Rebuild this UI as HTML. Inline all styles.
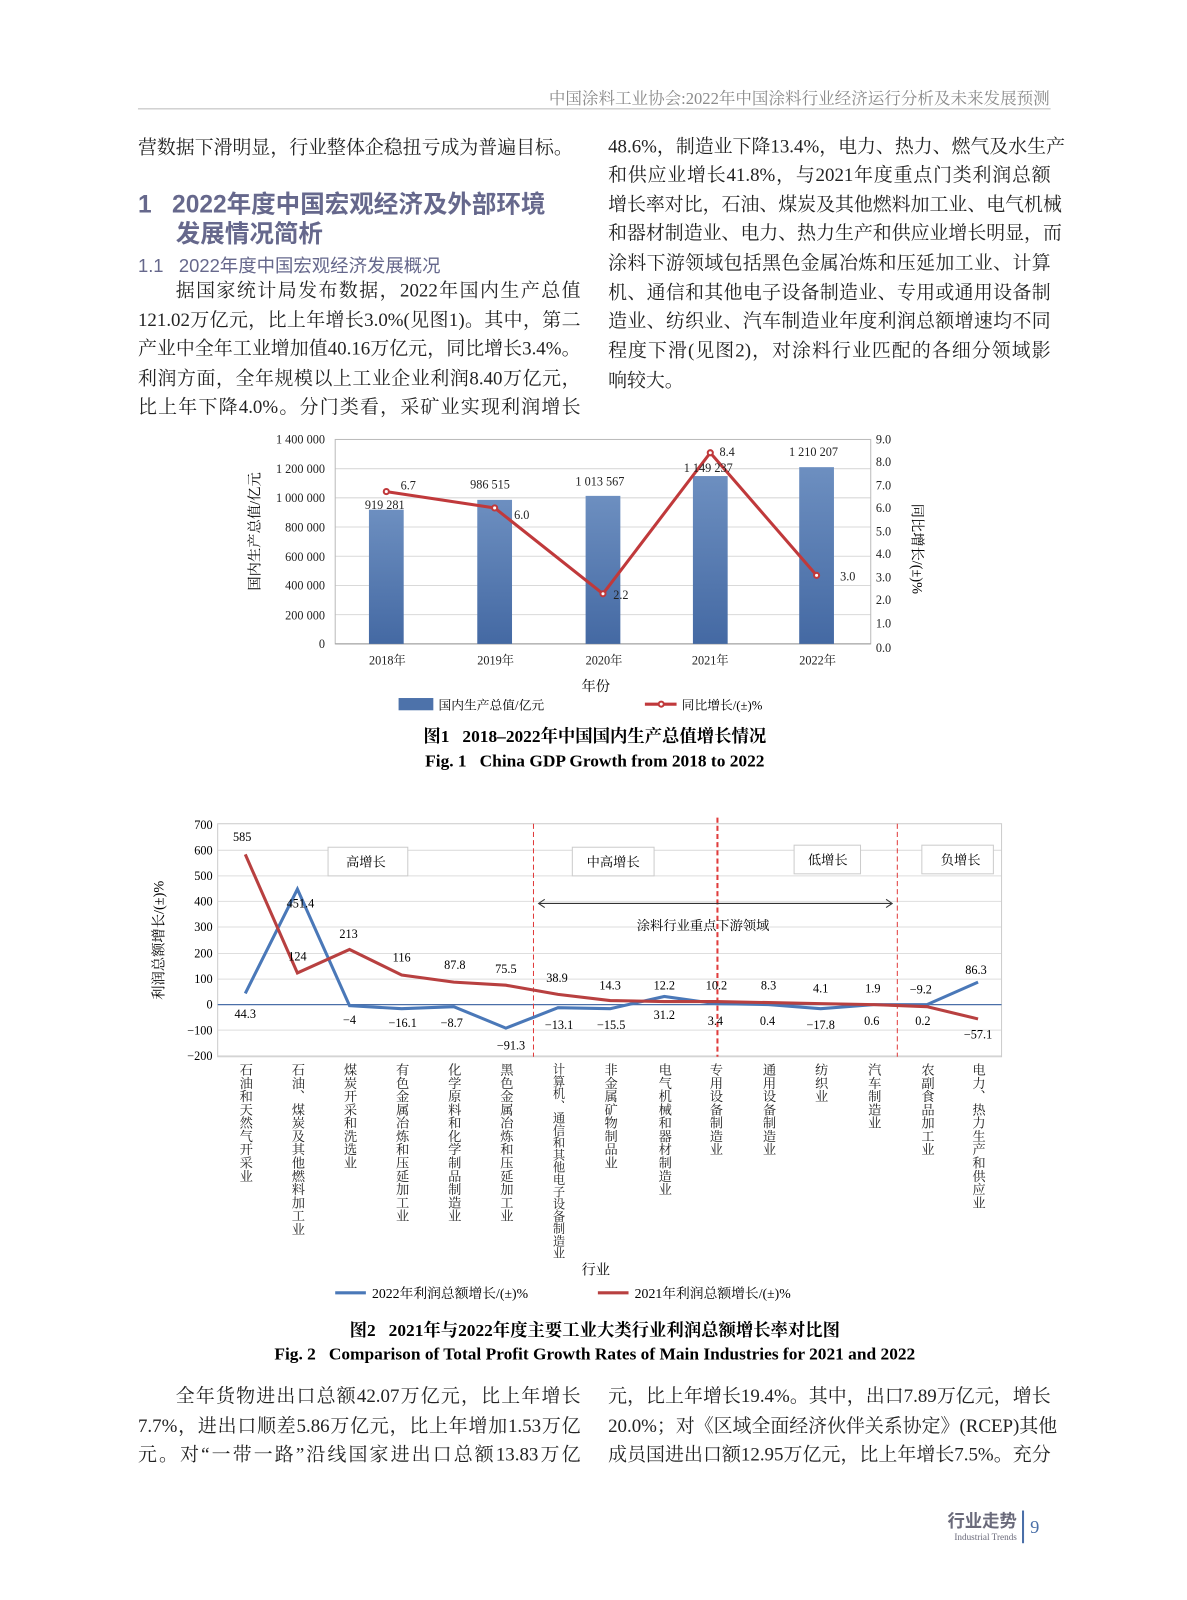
<!DOCTYPE html>
<html><head><meta charset="utf-8"><style>
body{margin:0;background:#fff;}
#o{position:relative;width:1187px;height:1600px;overflow:hidden;}
#p{position:absolute;left:0;top:0;width:1187px;height:1600px;transform:scale(1.022);transform-origin:0 0;font-family:"Liberation Serif","Noto Serif CJK SC",serif;color:#222;}
.l{position:absolute;font-size:18.5px;line-height:22px;white-space:nowrap;text-align:justify;text-align-last:justify;}
.h{position:absolute;color:#66688c;font-family:"Liberation Sans","Noto Sans CJK SC",sans-serif;white-space:nowrap;}
svg{position:absolute;left:0;top:0;}
</style></head><body><div id="o"><div id="p">
<div class="h" style="left:537px;top:83px;font-size:16.2px;color:#8a8a8a;font-family:'Liberation Serif','Noto Serif CJK SC',serif">中国涂料工业协会:2022年中国涂料行业经济运行分析及未来发展预测</div>
<div style="position:absolute;left:135px;top:106px;width:893px;height:1px;background:#bbb"></div>

<div class="l" style="left:135px;top:134px;width:433px;text-align-last:left">营数据下滑明显，行业整体企稳扭亏成为普遍目标。</div>
<div class="h" style="left:135px;top:180px;font-size:24px;font-weight:bold">1&nbsp;&nbsp;&nbsp;2022年度中国宏观经济及外部环境</div>
<div class="h" style="left:172px;top:209px;font-size:24px;font-weight:bold">发展情况简析</div>
<div class="h" style="left:135px;top:246px;font-size:18px">1.1&nbsp;&nbsp;&nbsp;2022年度中国宏观经济发展概况</div>
<div class="l" style="left:172px;top:274px;width:396px">据国家统计局发布数据，2022年国内生产总值</div>
<div class="l" style="left:135px;top:303px;width:433px">121.02万亿元，比上年增长3.0%(见图1)。其中，第二</div>
<div class="l" style="left:135px;top:331px;width:433px">产业中全年工业增加值40.16万亿元，同比增长3.4%。</div>
<div class="l" style="left:135px;top:360px;width:433px">利润方面，全年规模以上工业企业利润8.40万亿元，</div>
<div class="l" style="left:135px;top:388px;width:433px">比上年下降4.0%。分门类看，采矿业实现利润增长</div>

<div class="l" style="left:595px;top:133px;width:433px">48.6%，制造业下降13.4%，电力、热力、燃气及水生产</div>
<div class="l" style="left:595px;top:161px;width:433px">和供应业增长41.8%，与2021年度重点门类利润总额</div>
<div class="l" style="left:595px;top:190px;width:433px">增长率对比，石油、煤炭及其他燃料加工业、电气机械</div>
<div class="l" style="left:595px;top:218px;width:433px">和器材制造业、电力、热力生产和供应业增长明显，而</div>
<div class="l" style="left:595px;top:247px;width:433px">涂料下游领域包括黑色金属冶炼和压延加工业、计算</div>
<div class="l" style="left:595px;top:276px;width:433px">机、通信和其他电子设备制造业、专用或通用设备制</div>
<div class="l" style="left:595px;top:304px;width:433px">造业、纺织业、汽车制造业年度利润总额增速均不同</div>
<div class="l" style="left:595px;top:333px;width:433px">程度下滑(见图2)，对涂料行业匹配的各细分领域影</div>
<div class="l" style="left:595px;top:362px;width:433px;text-align-last:left">响较大。</div>

<div class="l" style="left:172px;top:1356px;width:396px">全年货物进出口总额42.07万亿元，比上年增长</div>
<div class="l" style="left:135px;top:1385px;width:433px">7.7%，进出口顺差5.86万亿元，比上年增加1.53万亿</div>
<div class="l" style="left:135px;top:1413px;width:433px">元。对“一带一路”沿线国家进出口总额13.83万亿</div>
<div class="l" style="left:595px;top:1356px;width:433px">元，比上年增长19.4%。其中，出口7.89万亿元，增长</div>
<div class="l" style="left:595px;top:1385px;width:433px">20.0%；对《区域全面经济伙伴关系协定》(RCEP)其他</div>
<div class="l" style="left:595px;top:1413px;width:433px">成员国进出口额12.95万亿元，比上年增长7.5%。充分</div>

<svg width="1187" height="1600" font-family="Liberation Serif,Noto Serif CJK SC,serif">
<g stroke="#d9d9d9" stroke-width="1">
<line x1="328" y1="430" x2="852" y2="430"/><line x1="328" y1="458.6" x2="852" y2="458.6"/><line x1="328" y1="487.1" x2="852" y2="487.1"/><line x1="328" y1="515.7" x2="852" y2="515.7"/><line x1="328" y1="544.3" x2="852" y2="544.3"/><line x1="328" y1="572.9" x2="852" y2="572.9"/><line x1="328" y1="601.4" x2="852" y2="601.4"/>
</g>
<rect x="328" y="430" width="524" height="200" fill="none" stroke="#bbb"/>
<line x1="328" y1="630" x2="852" y2="630" stroke="#999"/>
<g font-size="12" text-anchor="end" fill="#222">
<text x="318" y="434">1 400 000</text><text x="318" y="463">1 200 000</text><text x="318" y="491">1 000 000</text><text x="318" y="520">800 000</text><text x="318" y="549">600 000</text><text x="318" y="577">400 000</text><text x="318" y="606">200 000</text><text x="318" y="634">0</text>
</g>
<g font-size="12" fill="#222">
<text x="857" y="434">9.0</text><text x="857" y="456">8.0</text><text x="857" y="479">7.0</text><text x="857" y="501">6.0</text><text x="857" y="524">5.0</text><text x="857" y="546">4.0</text><text x="857" y="569">3.0</text><text x="857" y="591">2.0</text><text x="857" y="614">1.0</text><text x="857" y="638">0.0</text>
</g>
<defs><linearGradient id="bg" x1="0" y1="0" x2="0" y2="1"><stop offset="0" stop-color="#6d8fc0"/><stop offset="1" stop-color="#4469a3"/></linearGradient></defs>
<g fill="url(#bg)">
<rect x="361" y="498.7" width="34" height="131.3"/><rect x="467" y="489.1" width="34" height="140.9"/><rect x="573" y="485.2" width="34" height="144.8"/><rect x="678" y="465.8" width="34" height="164.2"/><rect x="782" y="457.1" width="34" height="172.9"/>
</g>
<polyline points="378,481 484,497 590,581 695,443 799,563" fill="none" stroke="#c0393b" stroke-width="3"/>
<g fill="#fff" stroke="#c0393b" stroke-width="2"><circle cx="378" cy="481" r="2.5"/><circle cx="484" cy="497" r="2.5"/><circle cx="590" cy="581" r="2.5"/><circle cx="695" cy="443" r="2.5"/><circle cx="799" cy="563" r="2.5"/></g>
<g font-size="12" fill="#222">
<text x="392" y="479">6.7</text><text x="357" y="498">919 281</text><text x="460" y="478">986 515</text><text x="503" y="508">6.0</text><text x="563" y="475">1 013 567</text><text x="600" y="586">2.2</text><text x="704" y="446">8.4</text><text x="669" y="462">1 149 237</text><text x="772" y="446">1 210 207</text><text x="822" y="568">3.0</text>
</g>
<g font-size="12" text-anchor="middle" fill="#222"><text x="379" y="650">2018年</text><text x="485" y="650">2019年</text><text x="591" y="650">2020年</text><text x="695" y="650">2021年</text><text x="800" y="650">2022年</text></g>
<text x="583" y="676" font-size="14" text-anchor="middle">年份</text>
<text transform="translate(254,520) rotate(-90)" font-size="14" text-anchor="middle">国内生产总值/亿元</text>
<text transform="translate(893,537) rotate(90)" font-size="14" text-anchor="middle">同比增长/(±)%</text>
<rect x="390" y="683" width="34" height="12" fill="#4d72aa"/><text x="429" y="694" font-size="12.5">国内生产总值/亿元</text>
<line x1="631" y1="689" x2="662" y2="689" stroke="#c0393b" stroke-width="3"/><circle cx="647" cy="689" r="2.5" fill="#fff" stroke="#c0393b" stroke-width="2"/><text x="667" y="694" font-size="12.5">同比增长/(±)%</text>
<text x="582" y="726" font-size="17" font-weight="bold" text-anchor="middle">图1&#160;&#160;&#160;2018–2022年中国国内生产总值增长情况</text>
<text x="582" y="750" font-size="17" font-weight="bold" text-anchor="middle">Fig. 1&#160;&#160;&#160;China GDP Growth from 2018 to 2022</text>

<g stroke="#dedede">
<line x1="213" y1="832" x2="980" y2="832"/><line x1="213" y1="857" x2="980" y2="857"/><line x1="213" y1="882" x2="980" y2="882"/><line x1="213" y1="907" x2="980" y2="907"/><line x1="213" y1="933" x2="980" y2="933"/><line x1="213" y1="958" x2="980" y2="958"/><line x1="213" y1="1008" x2="980" y2="1008"/><line x1="213" y1="1033" x2="980" y2="1033"/>
</g>
<rect x="213" y="806" width="767" height="228" fill="none" stroke="#ccc"/>
<line x1="213" y1="983" x2="980" y2="983" stroke="#4a6fa8" stroke-width="1.2"/>
<g font-size="12" text-anchor="end"><text x="208" y="811">700</text><text x="208" y="836">600</text><text x="208" y="861">500</text><text x="208" y="886">400</text><text x="208" y="911">300</text><text x="208" y="937">200</text><text x="208" y="962">100</text><text x="208" y="987">0</text><text x="208" y="1012">−100</text><text x="208" y="1037">−200</text></g>
<text transform="translate(160,920) rotate(-90)" font-size="14" text-anchor="middle">利润总额增长/(±)%</text>
<g stroke="#e03c3c" stroke-dasharray="5,3"><line x1="522" y1="806" x2="522" y2="1034" stroke-width="1"/><line x1="702" y1="800" x2="702" y2="1034" stroke-width="2"/><line x1="878" y1="806" x2="878" y2="1034" stroke-width="1"/></g>
<g fill="#fff" stroke="#ccc"><rect x="321" y="829" width="78" height="28"/><rect x="560" y="829" width="80" height="28"/><rect x="777" y="827" width="65" height="28"/><rect x="902" y="827" width="70" height="28"/></g>
<g font-size="13" text-anchor="middle"><text x="358" y="848">高增长</text><text x="600" y="848">中高增长</text><text x="810" y="846">低增长</text><text x="940" y="846">负增长</text><text x="688" y="910">涂料行业重点下游领域</text></g>
<line x1="528" y1="884" x2="872" y2="884" stroke="#333"/><path d="M533,880 L527,884 L533,888 M867,880 L873,884 L867,888" fill="none" stroke="#333"/>
<polyline points="240,972 291,870 342,984 393,987 444,985 495,1006 546,986 597,987 650,975 700,982 752,983 803,987 855,983 907,983 957,961" fill="none" stroke="#4a78b8" stroke-width="3"/>
<polyline points="240,836 291,952 342,929 393,954 444,961 495,964 546,973 597,979 650,980 700,980 752,981 803,982 855,983 907,985 957,997" fill="none" stroke="#b84040" stroke-width="3"/>
<g font-size="12" text-anchor="middle">
<text x="237" y="823">585</text><text x="294" y="888">451.4</text><text x="291" y="940">124</text><text x="341" y="918">213</text><text x="393" y="941">116</text><text x="445" y="948">87.8</text><text x="495" y="952">75.5</text><text x="545" y="961">38.9</text><text x="597" y="968">14.3</text><text x="650" y="968">12.2</text><text x="701" y="968">10.2</text><text x="752" y="968">8.3</text><text x="803" y="971">4.1</text><text x="854" y="971">1.9</text><text x="901" y="972">−9.2</text><text x="955" y="953">86.3</text>
<text x="240" y="996">44.3</text><text x="342" y="1002">−4</text><text x="394" y="1005">−16.1</text><text x="442" y="1005">−8.7</text><text x="500" y="1027">−91.3</text><text x="547" y="1007">−13.1</text><text x="598" y="1007">−15.5</text><text x="650" y="997">31.2</text><text x="700" y="1003">3.4</text><text x="751" y="1003">0.4</text><text x="803" y="1007">−17.8</text><text x="853" y="1003">0.6</text><text x="903" y="1003">0.2</text><text x="957" y="1016">−57.1</text>
</g>
<g font-size="13" style="writing-mode:vertical-rl" fill="#222">
<text x="240" y="1040">石油和天然气开采业</text><text x="291" y="1040">石油、煤炭及其他燃料加工业</text><text x="342" y="1040">煤炭开采和洗选业</text><text x="393" y="1040">有色金属冶炼和压延加工业</text><text x="444" y="1040">化学原料和化学制品制造业</text><text x="495" y="1040">黑色金属冶炼和压延加工业</text><text x="546" y="1040" font-size="12">计算机、通信和其他电子设备制造业</text><text x="597" y="1040">非金属矿物制品业</text><text x="650" y="1040">电气机械和器材制造业</text><text x="700" y="1040">专用设备制造业</text><text x="752" y="1040">通用设备制造业</text><text x="803" y="1040">纺织业</text><text x="855" y="1040">汽车制造业</text><text x="907" y="1040">农副食品加工业</text><text x="957" y="1040">电力、热力生产和供应业</text>
</g>
<text x="583" y="1247" font-size="14" text-anchor="middle">行业</text>
<line x1="328" y1="1265" x2="358" y2="1265" stroke="#4a78b8" stroke-width="3"/><text x="364" y="1270" font-size="13.5">2022年利润总额增长/(±)%</text>
<line x1="585" y1="1265" x2="615" y2="1265" stroke="#b84040" stroke-width="3"/><text x="621" y="1270" font-size="13.5">2021年利润总额增长/(±)%</text>
<text x="582" y="1307" font-size="17" font-weight="bold" text-anchor="middle">图2&#160;&#160;&#160;2021年与2022年度主要工业大类行业利润总额增长率对比图</text>
<text x="582" y="1330" font-size="17" font-weight="bold" text-anchor="middle">Fig. 2&#160;&#160;&#160;Comparison of Total Profit Growth Rates of Main Industries for 2021 and 2022</text>

<text x="995" y="1494" font-size="17" font-weight="bold" fill="#6a6a7a" text-anchor="end" font-family="Liberation Sans,Noto Sans CJK SC,sans-serif">行业走势</text>
<text x="995" y="1507" font-size="9" fill="#6a6a7a" text-anchor="end">Industrial Trends</text>
<line x1="1001" y1="1478" x2="1001" y2="1510" stroke="#4a6fa8" stroke-width="2"/>
<text x="1008" y="1500" font-size="18" fill="#4a6fa8">9</text>
</svg>
</div></div></body></html>
